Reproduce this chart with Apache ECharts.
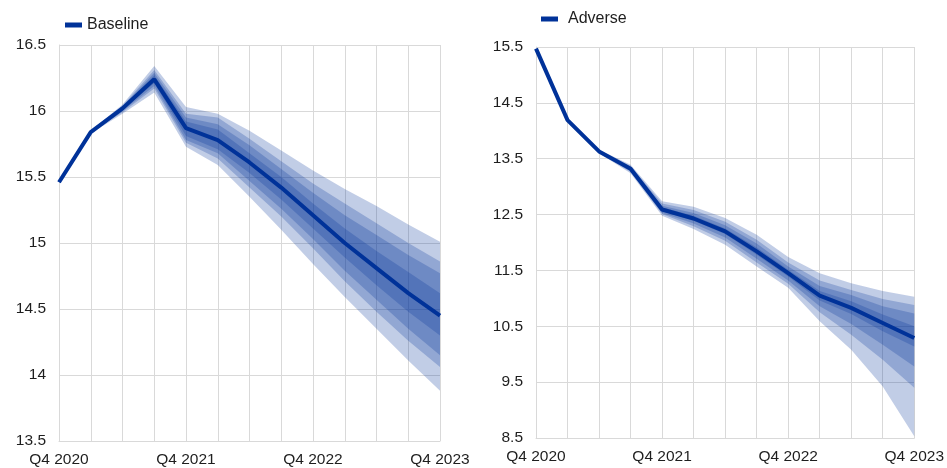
<!DOCTYPE html>
<html>
<head>
<meta charset="utf-8">
<script src="https://cdn.jsdelivr.net/npm/echarts@6/dist/echarts.min.js"></script>
<style>html,body{margin:0;padding:0;background:#fff}#c{width:947px;height:468px}</style>
</head>
<body>
<div id="c"></div>
<script>
const quarters = ['Q4 2020','Q1 2021','Q2 2021','Q3 2021','Q4 2021','Q1 2022','Q2 2022','Q3 2022','Q4 2022','Q1 2023','Q2 2023','Q3 2023','Q4 2023'];
const baseTicks = [13.5, 14, 14.5, 15, 15.5, 16, 16.5];
const advTicks = [8.5, 9.5, 10.5, 11.5, 12.5, 13.5, 14.5, 15.5];

// Baseline
const baseCenter = [15.46, 15.84, 16.02, 16.24, 15.87, 15.78, 15.61, 15.42, 15.21, 15.00, 14.81, 14.62, 14.45];
const baseU1 = [15.46, 15.85, 16.05, 16.34, 16.03, 15.98, 15.85, 15.70, 15.55, 15.41, 15.28, 15.14, 15.01];
const baseU2 = [15.46, 15.845, 16.04, 16.31, 15.98, 15.95, 15.79, 15.62, 15.45, 15.30, 15.15, 15.00, 14.86];
const baseU3 = [15.46, 15.845, 16.035, 16.29, 15.95, 15.90, 15.74, 15.56, 15.38, 15.21, 15.06, 14.91, 14.77];
const baseU4 = [15.46, 15.84, 16.03, 16.27, 15.92, 15.86, 15.68, 15.50, 15.30, 15.11, 14.94, 14.78, 14.62];
const baseL4 = [15.46, 15.84, 16.01, 16.21, 15.81, 15.71, 15.53, 15.33, 15.11, 14.89, 14.68, 14.48, 14.30];
const baseL3 = [15.46, 15.835, 16.00, 16.19, 15.78, 15.68, 15.47, 15.26, 15.03, 14.79, 14.57, 14.35, 14.15];
const baseL2 = [15.46, 15.835, 15.99, 16.17, 15.76, 15.64, 15.42, 15.20, 14.96, 14.71, 14.48, 14.26, 14.06];
const baseL1 = [15.46, 15.83, 15.98, 16.14, 15.73, 15.59, 15.35, 15.10, 14.84, 14.59, 14.35, 14.11, 13.88];

// Adverse
const advCenter = [15.47, 14.19, 13.63, 13.32, 12.59, 12.43, 12.20, 11.84, 11.45, 11.05, 10.83, 10.56, 10.29];
const advU1 = [15.47, 14.20, 13.66, 13.39, 12.74, 12.64, 12.44, 12.14, 11.74, 11.45, 11.27, 11.13, 11.03];
const advU2 = [15.47, 14.195, 13.65, 13.37, 12.70, 12.58, 12.37, 12.05, 11.64, 11.32, 11.15, 10.99, 10.88];
const advU3 = [15.47, 14.19, 13.64, 13.35, 12.66, 12.53, 12.31, 11.98, 11.57, 11.22, 11.06, 10.86, 10.73];
const advU4 = [15.47, 14.19, 13.635, 13.34, 12.63, 12.48, 12.25, 11.91, 11.51, 11.13, 10.95, 10.71, 10.50];
const advL4 = [15.47, 14.19, 13.625, 13.30, 12.56, 12.39, 12.15, 11.78, 11.39, 10.96, 10.72, 10.41, 10.14];
const advL3 = [15.47, 14.19, 13.62, 13.28, 12.53, 12.34, 12.09, 11.71, 11.32, 10.86, 10.54, 10.17, 9.78];
const advL2 = [15.47, 14.185, 13.61, 13.26, 12.51, 12.29, 12.03, 11.64, 11.26, 10.75, 10.35, 9.90, 9.40];
const advL1 = [15.47, 14.18, 13.60, 13.24, 12.48, 12.24, 11.96, 11.57, 11.19, 10.59, 10.08, 9.42, 8.53];

const BLUE = '#003299';
const BAND = 'rgba(0,50,153,0.245)';
const GRID = '#d9d9d9';
const TXT = '#1e1e1e';
const FONT = 'Liberation Sans, Arial, sans-serif';

function bandSeries(lower, upper, idx, key) {
  return [
    { type: 'line', xAxisIndex: idx, yAxisIndex: idx, stack: key, data: lower,
      symbol: 'none', lineStyle: { width: 0, opacity: 0 }, silent: true, z: 2 },
    { type: 'line', xAxisIndex: idx, yAxisIndex: idx, stack: key,
      data: upper.map((u, i) => +(u - lower[i]).toFixed(4)),
      symbol: 'none', lineStyle: { width: 0, opacity: 0 }, areaStyle: { color: BAND, opacity: 1 },
      silent: true, z: 2 }
  ];
}

function xAxis(idx) {
  return {
    type: 'category', gridIndex: idx, data: quarters, boundaryGap: false,
    axisLine: { show: true, lineStyle: { color: GRID, width: 1 } },
    axisTick: { show: false },
    axisLabel: { interval: 3, color: TXT, fontSize: 15.5, fontFamily: FONT, margin: 11 },
    splitLine: { show: true, interval: 0, lineStyle: { color: GRID, width: 1 } }
  };
}

const series = [];
[[baseL1, baseU1], [baseL2, baseU2], [baseL3, baseU3], [baseL4, baseU4]].forEach((p, k) => {
  series.push(...bandSeries(p[0], p[1], 0, 'b' + k));
});
[[advL1, advU1], [advL2, advU2], [advL3, advU3], [advL4, advU4]].forEach((p, k) => {
  series.push(...bandSeries(p[0], p[1], 1, 'a' + k));
});
series.push({ name: 'Baseline', type: 'line', xAxisIndex: 0, yAxisIndex: 0, data: baseCenter,
  symbol: 'none', lineStyle: { color: BLUE, width: 4 }, itemStyle: { color: BLUE }, z: 5 });
series.push({ name: 'Adverse', type: 'line', xAxisIndex: 1, yAxisIndex: 1, data: advCenter,
  symbol: 'none', lineStyle: { color: BLUE, width: 4 }, itemStyle: { color: BLUE }, z: 5 });

const chart = echarts.init(document.getElementById('c'), null, { renderer: 'canvas' });
chart.setOption({
  animation: false,
  backgroundColor: '#fff',
  legend: [
    { data: ['Baseline'], left: 60, top: 12, icon: 'rect', itemWidth: 17, itemHeight: 5, itemGap: 0,
      textStyle: { color: TXT, fontSize: 16, fontFamily: FONT } },
    { data: ['Adverse'], left: 536, top: 6, icon: 'rect', itemWidth: 17, itemHeight: 5, itemGap: 0,
      textStyle: { color: TXT, fontSize: 16, fontFamily: FONT, padding: [0, 0, 0, 5] } }
  ],
  grid: [
    { left: 59, top: 45, width: 381, height: 397 },
    { left: 536, top: 47, width: 380, height: 391 }
  ],
  xAxis: [xAxis(0), xAxis(1)],
  yAxis: [
    { type: 'value', gridIndex: 0, min: 13.5, max: 16.5, interval: 0.5,
      axisLine: { show: true, lineStyle: { color: GRID } }, axisTick: { show: false },
      axisLabel: { color: TXT, fontSize: 15.5, fontFamily: FONT, margin: 13 },
      splitLine: { show: true, lineStyle: { color: GRID, width: 1 } } },
    { type: 'value', gridIndex: 1, min: 8.5, max: 15.5,
      axisLine: { show: true, lineStyle: { color: GRID } },
      axisTick: { show: false, customValues: advTicks },
      axisLabel: { color: TXT, fontSize: 15.5, fontFamily: FONT, margin: 13, customValues: advTicks },
      splitLine: { show: true, lineStyle: { color: GRID, width: 1 } } }
  ],
  series: series
});
</script>
</body>
</html>
